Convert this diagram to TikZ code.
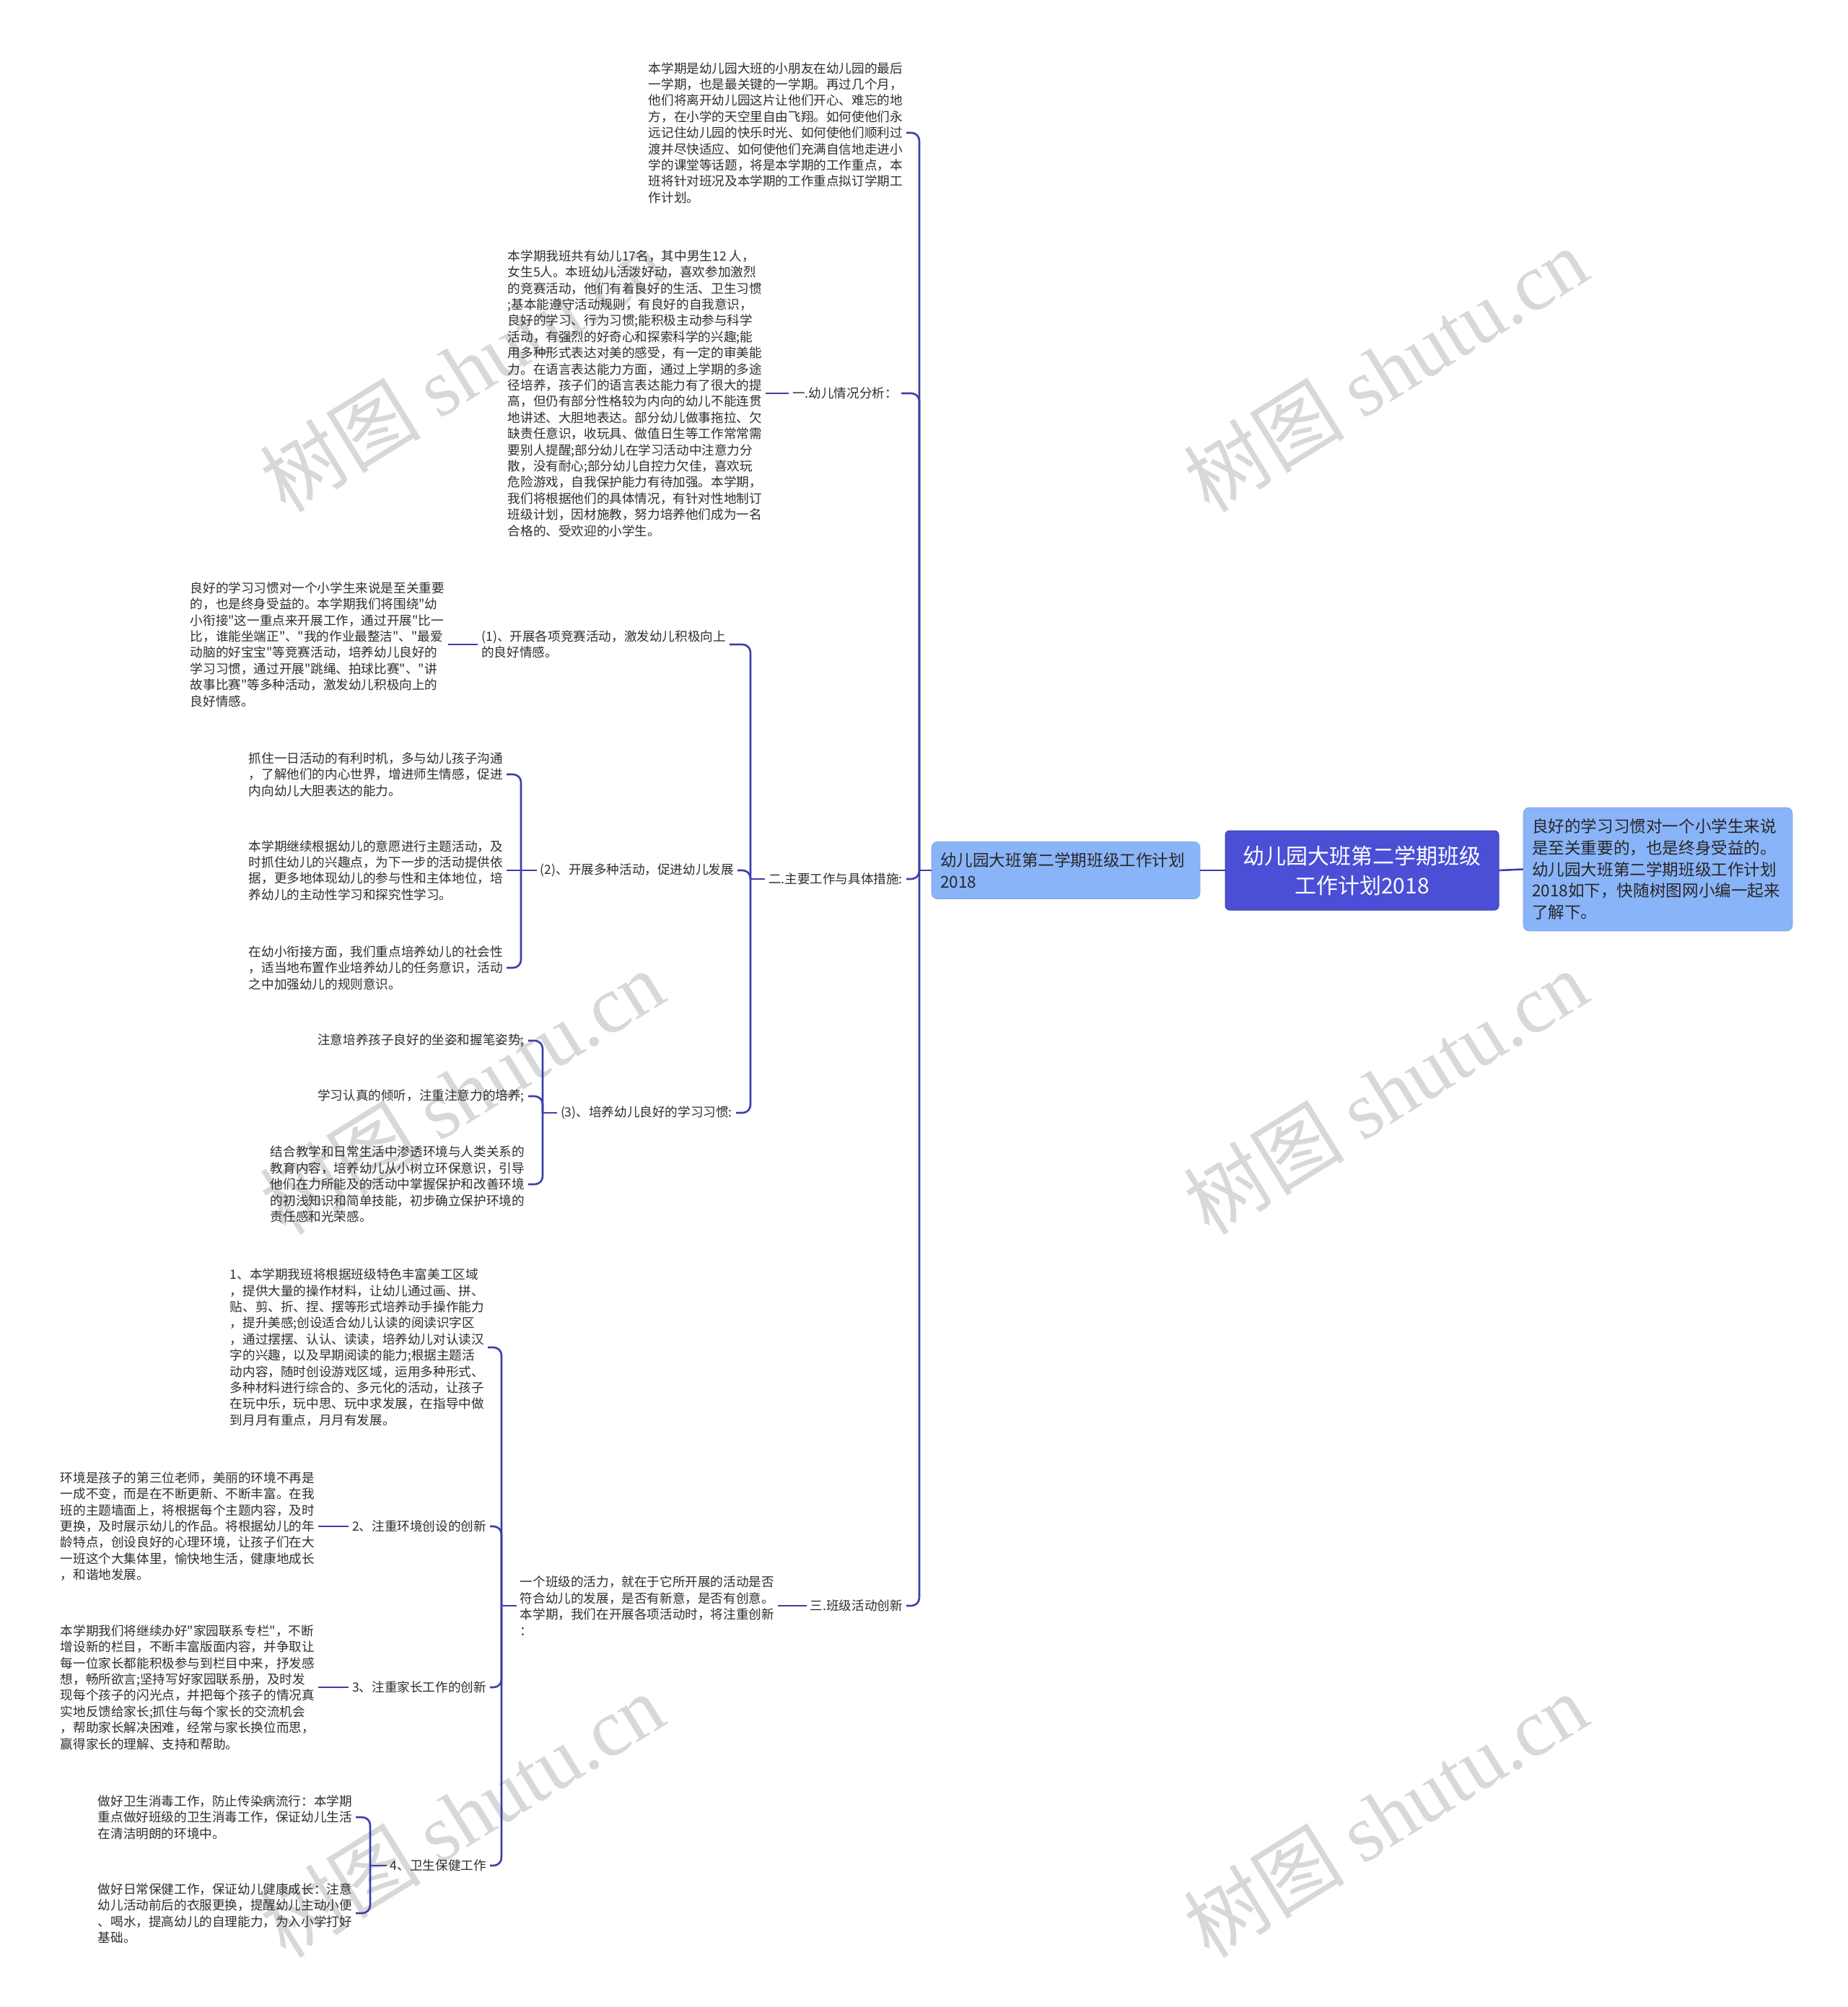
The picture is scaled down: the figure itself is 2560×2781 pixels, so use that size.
\documentclass[tikz,border=0pt]{standalone}
\usepackage{fontspec}
\setmainfont{Noto Sans CJK SC}[Ligatures=TeXOff]
\newfontfamily\wmserif{Liberation Serif}
\definecolor{lc}{HTML}{3B3FA8}
\definecolor{rootc}{HTML}{4A4FD6}
\definecolor{rootb}{HTML}{3A3FB8}
\definecolor{boxc}{HTML}{8AB4F8}
\definecolor{tc}{HTML}{2E2E2E}
\definecolor{wmc}{HTML}{D8D8D8}
\newcommand\fsmall{\fontsize{17.6pt}{22.4pt}\selectfont}
\newcommand\fmid{\fontsize{22.6pt}{29.6pt}\selectfont}
\newcommand\fbig{\fontsize{30pt}{41pt}\selectfont}
\newcommand\fwm{\fontsize{112pt}{116pt}\selectfont}
\begin{document}
\begin{tikzpicture}[x=1pt,y=-1pt,
  conn/.style={draw=lc, line width=2.6pt, rounded corners=11pt},
  txt/.style={font=\fsmall, text=tc, align=left, inner xsep=5pt, inner ysep=2pt, anchor=east},
  txtr/.style={txt, align=right},
  wm/.style={font=\fwm, text=wmc, rotate=31.7, inner sep=0pt},
  rootbox/.style={fill=rootc, draw=rootb, line width=1pt, rounded corners=6pt, text=white, font=\fbig, align=center, minimum width=379pt, minimum height=110pt, inner sep=0pt},
  bluebox/.style={fill=boxc, draw=boxc!90!black, line width=0.6pt, rounded corners=8pt, text=black!85, font=\fmid, align=left, inner xsep=12pt, inner ysep=0pt}
]
\fill[white] (0,0) rectangle (2560,2781);
\useasboundingbox (0,0) rectangle (2560,2781);

% watermarks
\node[wm] (wm1) at (640,512) {树图 {\wmserif shutu.cn}};
\node[wm] (wm2) at (1920,512) {树图 {\wmserif shutu.cn}};
\node[wm] (wm3) at (640,1513) {树图 {\wmserif shutu.cn}};
\node[wm] (wm4) at (1920,1513) {树图 {\wmserif shutu.cn}};
\node[wm] (wm5) at (640,2515) {树图 {\wmserif shutu.cn}};
\node[wm] (wm6) at (1920,2515) {树图 {\wmserif shutu.cn}};

% central nodes
\node[rootbox] (root) at (1887.5,1206) {幼儿园大班第二学期班级\\工作计划2018};
\node[bluebox, text width=349pt, minimum height=171pt] (intro) at (2297.5,1204.5) {良好的学习习惯对一个小学生来说\\是至关重要的，也是终身受益的。\\幼儿园大班第二学期班级工作计划\\2018如下，快随树图网小编一起来\\了解下。};
\node[bluebox, text width=348pt, minimum height=79pt] (main) at (1477,1206) {幼儿园大班第二学期班级工作计划\\2018};

\draw[conn] (main.east) -- (root.west);
\draw[conn] (root.east) -- (intro.west);

% main spine
\coordinate (J0) at (1274,1206);
\draw[conn] (main.west) -- (J0);

\node[txt] (top) at (1256,184) {本学期是幼儿园大班的小朋友在幼儿园的最后\\一学期，也是最关键的一学期。再过几个月，\\他们将离开幼儿园这片让他们开心、难忘的地\\方，在小学的天空里自由飞翔。如何使他们永\\远记住幼儿园的快乐时光、如何使他们顺利过\\渡并尽快适应、如何使他们充满自信地走进小\\学的课堂等话题，将是本学期的工作重点，本\\班将针对班况及本学期的工作重点拟订学期工\\作计划。};
\node[txt] (l1) at (1249,545) {一.幼儿情况分析：};
\node[txt] (l2) at (1256,1218) {二.主要工作与具体措施:};
\node[txt] (l3) at (1256,2225) {三.班级活动创新};

\draw[conn] (J0) |- (top.east);
\draw[conn] (J0) |- (l1.east);
\draw[conn] (J0) |- (l2.east);
\draw[conn] (J0) |- (l3.east);

% section 1
\node[txt] (l1t) at (1061,545) {本学期我班共有幼儿17名，其中男生12 人，\\女生5人。本班幼儿活泼好动，喜欢参加激烈\\的竞赛活动，他们有着良好的生活、卫生习惯\\;基本能遵守活动规则，有良好的自我意识，\\良好的学习、行为习惯;能积极主动参与科学\\活动，有强烈的好奇心和探索科学的兴趣;能\\用多种形式表达对美的感受，有一定的审美能\\力。在语言表达能力方面，通过上学期的多途\\径培养，孩子们的语言表达能力有了很大的提\\高，但仍有部分性格较为内向的幼儿不能连贯\\地讲述、大胆地表达。部分幼儿做事拖拉、欠\\缺责任意识，收玩具、做值日生等工作常常需\\要别人提醒;部分幼儿在学习活动中注意力分\\散，没有耐心;部分幼儿自控力欠佳，喜欢玩\\危险游戏，自我保护能力有待加强。本学期，\\我们将根据他们的具体情况，有针对性地制订\\班级计划，因材施教，努力培养他们成为一名\\合格的、受欢迎的小学生。};
\draw[conn] (l1.west) -- (l1t.east);

% section 2
\coordinate (J1) at (1040,1218);
\draw[conn] (l2.west) -- (J1);
\node[txt] (p1) at (1011,893) {(1)、开展各项竞赛活动，激发幼儿积极向上\\的良好情感。};
\node[txt] (p2) at (1022,1206) {(2)、开展多种活动，促进幼儿发展};
\node[txt] (p3) at (1020,1542) {(3)、培养幼儿良好的学习习惯:};
\draw[conn] (J1) |- (p1.east);
\draw[conn] (J1) |- (p2.east);
\draw[conn] (J1) |- (p3.east);

\node[txt] (p1t) at (621,893) {良好的学习习惯对一个小学生来说是至关重要\\的，也是终身受益的。本学期我们将围绕"幼\\小衔接"这一重点来开展工作，通过开展"比一\\比，谁能坐端正"、"我的作业最整洁"、"最爱\\动脑的好宝宝"等竞赛活动，培养幼儿良好的\\学习习惯，通过开展"跳绳、拍球比赛"、"讲\\故事比赛"等多种活动，激发幼儿积极向上的\\良好情感。};
\draw[conn] (p1.west) -- (p1t.east);

\coordinate (J2) at (722,1206);
\draw[conn] (p2.west) -- (J2);
\node[txt] (p2a) at (702,1073) {抓住一日活动的有利时机，多与幼儿孩子沟通\\，了解他们的内心世界，增进师生情感，促进\\内向幼儿大胆表达的能力。};
\node[txt] (p2b) at (702,1206) {本学期继续根据幼儿的意愿进行主题活动，及\\时抓住幼儿的兴趣点，为下一步的活动提供依\\据，更多地体现幼儿的参与性和主体地位，培\\养幼儿的主动性学习和探究性学习。};
\node[txt] (p2c) at (702,1341) {在幼小衔接方面，我们重点培养幼儿的社会性\\，适当地布置作业培养幼儿的任务意识，活动\\之中加强幼儿的规则意识。};
\draw[conn] (J2) |- (p2a.east);
\draw[conn] (J2) -- (p2b.east);
\draw[conn] (J2) |- (p2c.east);

\coordinate (J3) at (752,1542);
\draw[conn] (p3.west) -- (J3);
\node[txtr] (p3a) at (732,1442) {注意培养孩子良好的坐姿和握笔姿势;};
\node[txtr] (p3b) at (732,1519) {学习认真的倾听，注重注意力的培养;};
\node[txt] (p3c) at (732,1641) {结合教学和日常生活中渗透环境与人类关系的\\教育内容，培养幼儿从小树立环保意识，引导\\他们在力所能及的活动中掌握保护和改善环境\\的初浅知识和简单技能，初步确立保护环境的\\责任感和光荣感。};
\draw[conn] (J3) |- (p3a.east);
\draw[conn] (J3) |- (p3b.east);
\draw[conn] (J3) |- (p3c.east);

% section 3
\node[txt] (l3t) at (1078,2225) {一个班级的活力，就在于它所开展的活动是否\\符合幼儿的发展，是否有新意，是否有创意。\\本学期，我们在开展各项活动时，将注重创新\\：};
\draw[conn] (l3.west) -- (l3t.east);

\coordinate (J4) at (695,2225);
\draw[conn] (l3t.west) -- (J4);
\node[txt] (k1) at (676,1867) {1、本学期我班将根据班级特色丰富美工区域\\，提供大量的操作材料，让幼儿通过画、拼、\\贴、剪、折、捏、摆等形式培养动手操作能力\\，提升美感;创设适合幼儿认读的阅读识字区\\，通过摆摆、认认、读读，培养幼儿对认读汉\\字的兴趣，以及早期阅读的能力;根据主题活\\动内容，随时创设游戏区域，运用多种形式、\\多种材料进行综合的、多元化的活动，让孩子\\在玩中乐，玩中思、玩中求发展，在指导中做\\到月月有重点，月月有发展。};
\node[txt] (k2) at (679,2115) {2、注重环境创设的创新};
\node[txt] (k3) at (679,2338) {3、注重家长工作的创新};
\node[txt] (k4) at (679,2585) {4、卫生保健工作};
\draw[conn] (J4) |- (k1.east);
\draw[conn] (J4) |- (k2.east);
\draw[conn] (J4) |- (k3.east);
\draw[conn] (J4) |- (k4.east);

\node[txt] (k2t) at (441,2115) {环境是孩子的第三位老师，美丽的环境不再是\\一成不变，而是在不断更新、不断丰富。在我\\班的主题墙面上，将根据每个主题内容，及时\\更换，及时展示幼儿的作品。将根据幼儿的年\\龄特点，创设良好的心理环境，让孩子们在大\\一班这个大集体里，愉快地生活，健康地成长\\，和谐地发展。};
\draw[conn] (k2.west) -- (k2t.east);

\node[txt] (k3t) at (441,2338) {本学期我们将继续办好"家园联系专栏"，不断\\增设新的栏目，不断丰富版面内容，并争取让\\每一位家长都能积极参与到栏目中来，抒发感\\想，畅所欲言;坚持写好家园联系册，及时发\\现每个孩子的闪光点，并把每个孩子的情况真\\实地反馈给家长;抓住与每个家长的交流机会\\，帮助家长解决困难，经常与家长换位而思，\\赢得家长的理解、支持和帮助。};
\draw[conn] (k3.west) -- (k3t.east);

\coordinate (J5) at (513,2585);
\draw[conn] (k4.west) -- (J5);
\node[txt] (k4a) at (493,2518) {做好卫生消毒工作，防止传染病流行：本学期\\重点做好班级的卫生消毒工作，保证幼儿生活\\在清洁明朗的环境中。};
\node[txt] (k4b) at (493,2651) {做好日常保健工作，保证幼儿健康成长：注意\\幼儿活动前后的衣服更换，提醒幼儿主动小便\\、喝水，提高幼儿的自理能力，为入小学打好\\基础。};
\draw[conn] (J5) |- (k4a.east);
\draw[conn] (J5) |- (k4b.east);
\end{tikzpicture}
\end{document}
